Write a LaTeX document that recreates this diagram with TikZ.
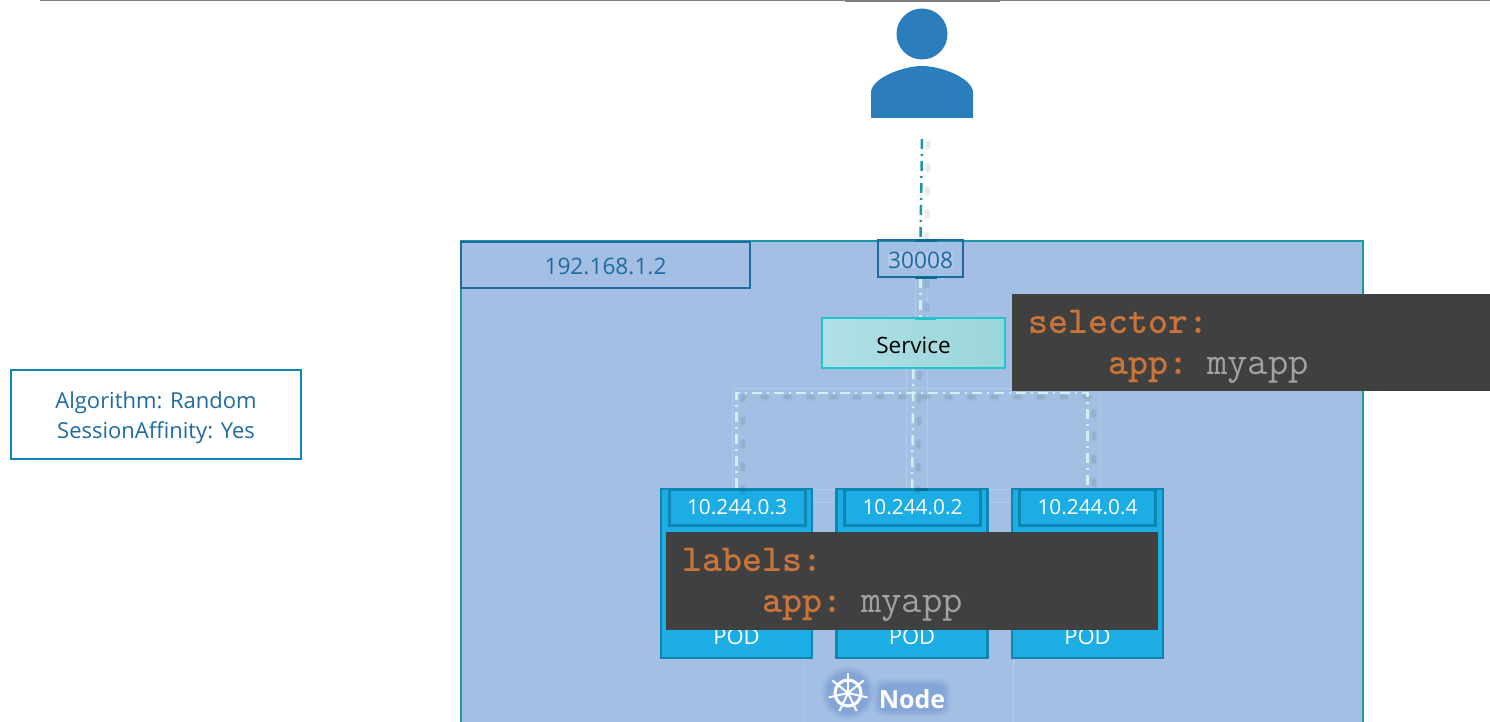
\documentclass[tikz,border=0pt]{standalone}
\usepackage{fontspec}
\setmainfont{Open Sans}
\definecolor{nodefill}{HTML}{A3BFE3}
\definecolor{nodeline}{HTML}{1E96A6}
\definecolor{ipblue}{HTML}{1F6B9F}
\definecolor{podfill}{HTML}{1CADE4}
\definecolor{podline}{HTML}{0E86B4}
\definecolor{svcline}{HTML}{22C4CF}
\definecolor{svcleft}{HTML}{B0E0E6}
\definecolor{svcright}{HTML}{9AD6DA}
\definecolor{codebg}{HTML}{404040}
\definecolor{codekey}{HTML}{C8743A}
\definecolor{codeval}{HTML}{A2A2A2}
\definecolor{userblue}{HTML}{2B7DBC}
\definecolor{glowblue}{HTML}{6F93D3}
\definecolor{linkpale}{HTML}{D5EFEF}
\definecolor{faintline}{HTML}{B2C9E9}
\newcommand{\keytext}[1]{{\ttfamily\bfseries\color{codekey}#1}}
\newcommand{\valtext}[1]{{\fontsize{39.5}{41}\ttfamily\color{codeval}#1}}

\begin{document}
\begin{tikzpicture}[x=1pt,y=-1pt]
\tikzstyle{every node}+=[inner sep=0pt]
\tikzstyle{ipbox}=[draw=ipblue,line width=2.5pt]
\tikzstyle{iptext}=[text=ipblue,font=\fontsize{22.7}{27}\selectfont]
\tikzstyle{podbox}=[draw=podline,fill=podfill,line width=2.5pt,minimum width=151pt,minimum height=169pt]
\tikzstyle{podipbox}=[draw=podline,fill=podfill,line width=3pt,minimum width=136pt,minimum height=36pt,text=white,font=\fontsize{20.8}{25}\selectfont]
\tikzstyle{podtext}=[text=white,font=\fontsize{22}{26}\selectfont]
\tikzstyle{codebox}=[fill=codebg]
\tikzstyle{codetext}=[align=left,font=\fontsize{38.1}{41}\selectfont]
\tikzstyle{infolink}=[line width=2.5pt,dash pattern=on 10pt off 5pt on 2pt off 5pt]
\tikzstyle{linkshadow}=[line width=7pt,black,opacity=0.035,line cap=round,dash pattern=on 4pt off 19pt,transform canvas={xshift=6pt,yshift=-4pt}]
\tikzstyle{linkcore}=[line width=4pt,black,opacity=0.05,line cap=round,dash pattern=on 4pt off 19pt,transform canvas={xshift=6pt,yshift=-4pt}]
\tikzstyle{faintbox}=[draw=faintline,line width=0.8pt]
\useasboundingbox (0,0) rectangle (1490,722);

\draw [gray,line width=1.5pt] (40,0.5) -- (1490,0.5);
\fill [gray] (845,0) rectangle (1000,2);

\node [fill=nodefill,minimum width=902pt,minimum height=481pt] (worker) at (912,481.5) {};
\draw [nodeline,line width=2.5pt] (worker.south west) -- (worker.north west) -- (worker.north east) -- (worker.south east);

\draw [faintbox] (732,388) rectangle (1100,489);
\draw [faintbox] (906,368) rectangle (927,489);
\draw [faintbox] (915,277) rectangle (927,318);
\draw [faintbox] (803,502) rectangle (1013,722);

\fill [userblue] (922,34) circle (25.5);
\fill [userblue] (871,118) -- (871,92) .. controls (872,78) and (903,66) .. (922,66) .. controls (941,66) and (972,78) .. (973,92) -- (973,118) -- cycle;
\coordinate (userfoot) at (922,139);

\node [ipbox,minimum width=289pt,minimum height=46pt] (hostip) at (605.5,265) {};
\node [iptext] (hostiptext) at (605.5,266.5) {192.168.1.2};
\node [ipbox,minimum width=85pt,minimum height=37pt] (port) at (920.5,258.5) {};
\node [iptext,fill=faintline] (porttext) at (920.5,260) {30008};
\node [draw=svcline,line width=2.5pt,left color=svcleft,right color=svcright,minimum width=183pt,minimum height=50pt] (service) at (913.5,343) {};
\node [font=\fontsize{22.5}{27}\selectfont] (servicetext) at (913.5,345) {Service};
\coordinate (bar) at (913,393);

\node [podbox] (pod1) at (736.5,573.5) {};
\node [podbox] (pod2) at (912,573.5) {};
\node [podbox] (pod3) at (1087.5,573.5) {};
\node [podipbox] (podip1) at (737,507.5) {10.244.0.3};
\node [podipbox] (podip2) at (912.5,507.5) {10.244.0.2};
\node [podipbox] (podip3) at (1087.5,507.5) {10.244.0.4};
\node [podtext] (podname1) at (736.5,637) {POD};
\node [podtext] (podname2) at (912,637) {POD};
\node [podtext] (podname3) at (1087.5,637) {POD};

\draw [linkshadow] (userfoot) -- (port.north);
\draw [linkcore] (userfoot) -- (port.north);
\draw [linkshadow] (port.south) -- (port.south |- service.north);
\draw [linkcore] (port.south) -- (port.south |- service.north);
\draw [linkshadow] (service.south) -- (pod2.north);
\draw [linkcore] (service.south) -- (pod2.north);
\draw [linkshadow] (pod1.north) -- (pod1.north |- bar) -- (pod3.north |- bar) -- (pod3.north);
\draw [linkcore] (pod1.north) -- (pod1.north |- bar) -- (pod3.north |- bar) -- (pod3.north);
\draw [infolink,nodeline] (userfoot) -- (port.north);
\draw [infolink,linkpale] (port.south) -- (port.south |- service.north);
\draw [infolink,linkpale] (service.south) -- (pod2.north);
\draw [infolink,linkpale] (pod1.north) -- (pod1.north |- bar) -- (pod3.north |- bar) -- (pod3.north);

\fill [podline!80!black] (915,239) rectangle (937,242);
\fill [podline!80!black] (915,276) rectangle (937,279);
\fill [svcline] (915,316.5) rectangle (936,320);
\fill [podline!80!black] (915,487.5) rectangle (928,490.5);

\node [codebox,minimum width=478pt,minimum height=97pt] (selector) at (1251,342.5) {};
\node [codetext,text width=446pt] (selectortext) at (1251,346.5) {\keytext{selector:}\\\hspace*{80pt}\keytext{app:} \valtext{myapp}};
\node [codebox,minimum width=492pt,minimum height=98pt] (labels) at (912,581) {};
\node [codetext,text width=460pt] (labelstext) at (912,584.5) {\keytext{labels:}\\\hspace*{80pt}\keytext{app:} \valtext{myapp}};

\node [draw=podline,fill=white,line width=2.5pt,minimum width=290pt,minimum height=89pt] (algo) at (156,414.5) {};
\node [text=ipblue,align=center,font=\fontsize{22}{30}\selectfont] (algotext) at (156,417.5) {Algorithm: Random\\SessionAffinity: Yes};

\fill [glowblue,opacity=0.10] (848,693) circle (27);
\fill [glowblue,opacity=0.15] (848,693) circle (25);
\fill [glowblue,opacity=0.20] (848,693) circle (23);
\fill [glowblue,opacity=0.30] (848,693) circle (21);
\fill [glowblue,opacity=0.10,rounded corners=12pt] (873,678) rectangle (951,717);
\fill [glowblue,opacity=0.15,rounded corners=10pt] (875,680) rectangle (949,715);
\fill [glowblue,opacity=0.20,rounded corners=9pt] (877,682) rectangle (947,713);
\fill [glowblue,opacity=0.30,rounded corners=7pt] (879,684) rectangle (945,711);
\begin{scope}[shift={(848,693)}]
\draw [white,line width=3pt] (0,0) circle (13);
\fill [white] (0,0) circle (3);
\foreach \a in {0,1,2,3,4,5,6}
\draw [white,line width=2pt] (0,0) -- (-90+\a*51.43:20);
\end{scope}
\node [text=white,font=\bfseries\fontsize{25}{30}\selectfont] (nodename) at (912,699) {Node};
\end{tikzpicture}
\end{document}
